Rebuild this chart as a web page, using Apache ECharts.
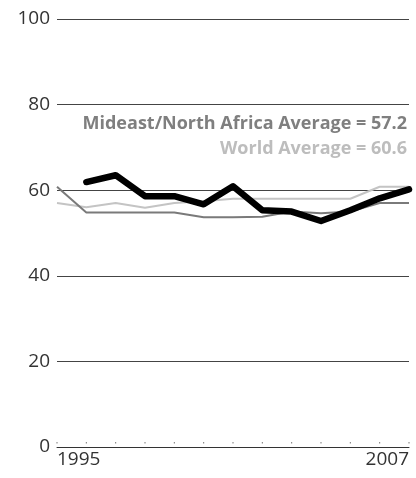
<!DOCTYPE html>
<html>
<head>
<meta charset="utf-8">
<script src="https://cdn.jsdelivr.net/npm/echarts@6/dist/echarts.min.js"></script>
<style>
html,body{margin:0;padding:0;background:#fff;}
#chart{width:416px;height:478px;}
</style>
</head>
<body>
<div id="chart"></div>
<script>
const years = ['1995','1996','1997','1998','1999','2000','2001','2002','2003','2004','2005','2006','2007'];
const countryValues = [null, 61.9, 63.5, 58.6, 58.6, 56.7, 60.9, 55.3, 55.0, 52.8, 55.3, 58.1, 60.2];
const mideastValues = [60.8, 54.8, 54.8, 54.8, 54.8, 53.7, 53.7, 53.8, 55.0, 54.6, 55.0, 57.0, 57.0];
const worldValues = [57.0, 56.0, 57.0, 55.9, 57.0, 57.4, 58.0, 58.0, 58.0, 58.0, 58.0, 60.8, 60.8];
const tickDots = [1, 1, 1, 1, 1, 1, 1, 1, 1, 1, 1, 1, 1];
const yTicks = [0, 20, 40, 60, 80, 100];
const mideastLabel = 'Mideast/North Africa Average = 57.2';
const worldLabel = 'World Average = 60.6';

const chart = echarts.init(document.getElementById('chart'));
const font = '"Open Sans", "DejaVu Sans", sans-serif';
chart.setOption({
  animation: false,
  backgroundColor: '#fff',
  textStyle: { fontFamily: font },
  grid: { left: 57, right: 7, top: 19, bottom: 31, containLabel: false },
  title: [
    { text: mideastLabel, right: 9, top: 114, padding: 0, textStyle: { fontFamily: font, fontSize: 18, fontWeight: 'bold', color: '#7f7f7f', lineHeight: 20 } },
    { text: worldLabel, right: 9, top: 139, padding: 0, textStyle: { fontFamily: font, fontSize: 18, fontWeight: 'bold', color: '#bdbdbd', lineHeight: 20 } }
  ],
  xAxis: {
    type: 'category',
    data: years,
    boundaryGap: false,
    axisLine: { show: true, lineStyle: { color: '#333', width: 1 } },
    axisTick: { show: false },
    splitLine: { show: false },
    axisLabel: {
      interval: 0,
      color: '#333',
      fontSize: 19,
      fontFamily: font,
      margin: 3,
      alignMinLabel: 'left',
      alignMaxLabel: 'right',
      formatter: function (v, i) { return (i === 0 || i === years.length - 1) ? v : ''; }
    }
  },
  yAxis: {
    type: 'value',
    min: yTicks[0],
    max: yTicks[yTicks.length - 1],
    interval: 20,
    axisLine: { show: false },
    axisTick: { show: false },
    axisLabel: { color: '#333', fontSize: 19, fontFamily: font, margin: 7 },
    splitLine: { show: true, lineStyle: { color: '#444', width: 1 } }
  },
  series: [
    { name: 'dots', type: 'scatter', data: tickDots, symbol: 'rect', symbolSize: [1, 1.5], itemStyle: { color: '#555' }, silent: true, z: 1 },
    { name: 'World', type: 'line', data: worldValues, symbol: 'none', lineStyle: { color: '#c4c4c4', width: 2 }, z: 2 },
    { name: 'Mideast', type: 'line', data: mideastValues, symbol: 'none', lineStyle: { color: '#7a7a7a', width: 2 }, z: 3 },
    { name: 'Country', type: 'line', data: countryValues, symbol: 'none', lineStyle: { color: '#000', width: 6.5, cap: 'round', join: 'round' }, z: 4 }
  ]
});
</script>
</body>
</html>
